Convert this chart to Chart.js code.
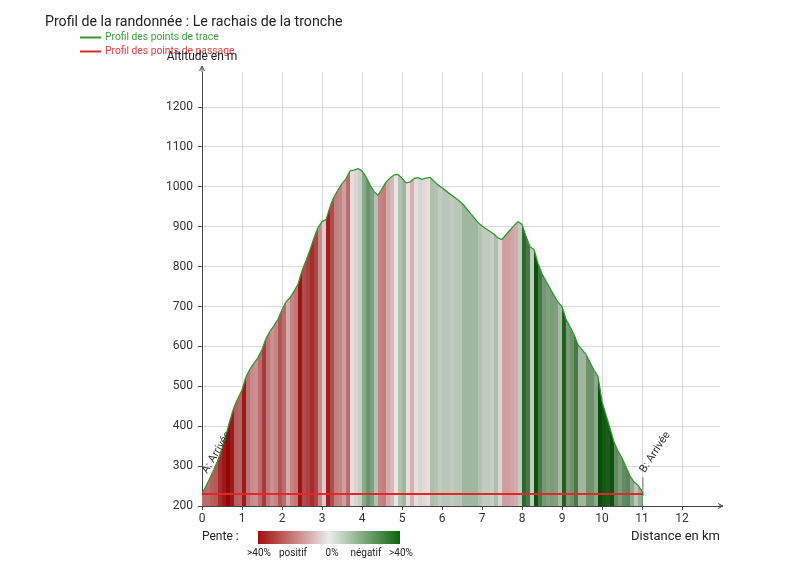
<!DOCTYPE html>
<html><head><meta charset="utf-8">
<script src="https://cdn.jsdelivr.net/npm/chart.js@4/dist/chart.umd.min.js"></script>
<style>
html,body{margin:0;padding:0;background:#fff;}
#wrap{position:relative;width:800px;height:569px;}
canvas{position:absolute;left:0;top:0;}
</style></head><body>
<div id="wrap"><canvas id="c" width="800" height="569"></canvas></div>
<script>
// ---- data ----
const distanceKm = [0.0,0.1,0.2,0.3,0.4,0.5,0.6,0.7,0.8,0.9,
  1.0,1.1,1.2,1.3,1.4,1.5,1.6,1.7,1.8,1.9,
  2.0,2.1,2.2,2.3,2.4,2.5,2.6,2.7,2.8,2.9,
  3.0,3.1,3.2,3.3,3.4,3.5,3.6,3.7,3.8,3.9,
  4.0,4.1,4.2,4.3,4.4,4.5,4.6,4.7,4.8,4.9,
  5.0,5.1,5.2,5.3,5.4,5.5,5.6,5.7,5.8,5.9,
  6.0,6.1,6.2,6.3,6.4,6.5,6.6,6.7,6.8,6.9,
  7.0,7.1,7.2,7.3,7.4,7.5,7.6,7.7,7.8,7.9,
  8.0,8.1,8.2,8.3,8.4,8.5,8.6,8.7,8.8,8.9,
  9.0,9.1,9.2,9.3,9.4,9.5,9.6,9.7,9.8,9.9,
  10.0,10.1,10.2,10.3,10.4,10.5,10.6,10.7,10.8,10.9,
  11.0,11.02];
const altitudeM = [230,250,270,292,315,345,378,415,448,470,
  491,524,543,558,572,592,620,638,652,668,
  692,712,722,738,756,790,815,842,872,898,
  913,918,950,975,992,1008,1020,1040,1042,1046,
  1040,1025,1005,988,979,995,1012,1022,1030,1031,
  1022,1010,1012,1021,1023,1019,1022,1024,1014,1005,
  998,990,982,975,967,959,947,935,923,911,
  902,895,888,882,872,868,880,892,903,913,
  906,876,850,843,808,782,763,746,728,711,
  700,668,650,630,604,592,580,560,540,525,
  462,428,395,360,338,320,298,275,260,252,
  238,232];
const passageKm = [0, 11.02];
const passageAlt = [230, 230];
const yTickValues = [200,300,400,500,600,700,800,900,1000,1100,1200];
const xTickValues = [0,1,2,3,4,5,6,7,8,9,10,11,12];
const titleText = 'Profil de la randonnée : Le rachais de la tronche';
const legendNames = ['Profil des points de trace','Profil des points de passage'];
const startLabel = 'A: Arrivée';
const endLabel = 'B: Arrivée';
const slopeLegend = ['>40%','positif','0%','négatif','>40%'];

// ---- styles ----
const GREEN_LINE = '#2f9a2f';
const RED_LINE = '#e3262a';
const FONT = 'Roboto, "Liberation Sans", sans-serif';

function lerp(a,b,t){return Math.round(a+(b-a)*t);}
function slopeColor(s){
  const t = Math.min(Math.abs(s)/0.36,1);
  const base=[236,234,234];
  const tgt = s>=0 ? [150,6,6] : [8,78,8];
  return `rgb(${lerp(base[0],tgt[0],t)},${lerp(base[1],tgt[1],t)},${lerp(base[2],tgt[2],t)})`;
}

const profilePoints = distanceKm.map((d,i)=>({x:d,y:altitudeM[i]}));
const passagePoints = passageKm.map((d,i)=>({x:d,y:passageAlt[i]}));

const decor = {
  id:'decor',
  afterDraw(chart){
    const c=chart.ctx, a=chart.chartArea, xs=chart.scales.x, ys=chart.scales.y;
    c.save();
    // axis arrows
    c.strokeStyle='#444'; c.fillStyle='#444'; c.lineWidth=1;
    c.beginPath(); c.moveTo(a.left,a.top); c.lineTo(a.left,a.top-5); c.stroke();
    c.beginPath(); c.moveTo(a.left,a.top-6); c.lineTo(a.left-2.5,a.top-1); c.moveTo(a.left,a.top-6); c.lineTo(a.left+2.5,a.top-1); c.stroke();
    c.beginPath(); c.moveTo(a.right-1,a.bottom); c.lineTo(a.right+3,a.bottom); c.stroke();
    c.beginPath(); c.moveTo(a.right+3,a.bottom); c.lineTo(a.right-2,a.bottom-2.5); c.moveTo(a.right+3,a.bottom); c.lineTo(a.right-2,a.bottom+2.5); c.stroke();

    // title
    c.fillStyle='#222'; c.font='14.2px '+FONT; c.textBaseline='alphabetic'; c.textAlign='left';
    c.fillText(titleText,45,26);
    // legend
    c.lineWidth=2;
    c.strokeStyle=GREEN_LINE; c.beginPath(); c.moveTo(80,37.5); c.lineTo(101,37.5); c.stroke();
    c.strokeStyle=RED_LINE; c.beginPath(); c.moveTo(80,51.5); c.lineTo(101,51.5); c.stroke();
    c.font='10.3px '+FONT; c.textBaseline='middle';
    c.fillStyle='#3a9f3a'; c.fillText(legendNames[0],105,37);
    c.fillStyle='#e33a3a'; c.fillText(legendNames[1],105,51);

    // axis titles
    c.fillStyle='#222'; c.font='12px '+FONT; c.textAlign='center'; c.textBaseline='middle';
    c.fillText('Altitude en m',a.left,57);
    c.font='13px '+FONT; c.textAlign='right';
    c.fillText('Distance en km',a.right,537);

    // start / end labels
    const x0=xs.getPixelForValue(distanceKm[0]), y0=ys.getPixelForValue(altitudeM[0]);
    const n=distanceKm.length-1;
    const x1=xs.getPixelForValue(distanceKm[n]), y1=ys.getPixelForValue(altitudeM[n]);
    c.font='11px '+FONT; c.fillStyle='#333'; c.textAlign='left'; c.textBaseline='alphabetic';
    c.save(); c.translate(x0+5,y0-20); c.rotate(-59*Math.PI/180); c.fillText(startLabel,0,0); c.restore();
    c.strokeStyle='#999'; c.lineWidth=1.5; c.beginPath(); c.moveTo(x1,y1-3); c.lineTo(x1,y1-16); c.stroke();
    c.save(); c.translate(x1+2,y1-20); c.rotate(-57*Math.PI/180); c.fillText(endLabel,0,0); c.restore();

    // slope legend
    c.font='12px '+FONT; c.fillStyle='#222'; c.textAlign='left'; c.textBaseline='middle';
    c.fillText('Pente :',202,537);
    const g=c.createLinearGradient(258,0,400,0);
    g.addColorStop(0,'#a30d0d'); g.addColorStop(0.5,'#ebebeb'); g.addColorStop(1,'#0b650b');
    c.fillStyle=g; c.fillRect(258,531,142,13);
    c.font='10px '+FONT; c.fillStyle='#222'; c.textAlign='center';
    const lx=[259,293,332,366,401];
    slopeLegend.forEach((t,i)=>c.fillText(t,lx[i],553));
    c.restore();
  }
};

new Chart(document.getElementById('c'),{
  type:'line',
  data:{datasets:[
    {label:legendNames[1],data:passagePoints,borderColor:RED_LINE,borderWidth:2,pointRadius:0,fill:false,order:0},
    {label:legendNames[0],data:profilePoints,borderColor:GREEN_LINE,borderWidth:1.3,pointRadius:0,tension:0,
     fill:'start',backgroundColor:'#ddd',order:1,
     segment:{backgroundColor:ctx=>{
        const p0=ctx.p0.parsed,p1=ctx.p1.parsed;
        return slopeColor((p1.y-p0.y)/((p1.x-p0.x)*1000));
     }}}
  ]},
  options:{
    responsive:false,animation:false,devicePixelRatio:1,
    layout:{padding:{top:72,right:80,left:0,bottom:0}},
    plugins:{legend:{display:false},title:{display:false},tooltip:{enabled:false}},
    scales:{
      x:{type:'linear',min:0,max:12.95,
        afterFit:s=>{s.height=63;},
        afterBuildTicks:s=>{s.ticks=xTickValues.map(v=>({value:v}));},
        grid:{color:'#d9d9d9',tickColor:'#555',tickLength:4,lineWidth:1},
        border:{display:true,color:'#444',width:1},
        ticks:{color:'#333',font:{family:FONT,size:12},padding:2,maxRotation:0,autoSkip:false,callback:v=>String(v)}},
      y:{type:'linear',min:200,max:1288,
        afterFit:s=>{s.width=202;},
        afterBuildTicks:s=>{s.ticks=yTickValues.map(v=>({value:v}));},
        grid:{color:'#d9d9d9',tickColor:'#555',tickLength:4,lineWidth:1},
        border:{display:true,color:'#444',width:1},
        ticks:{color:'#333',font:{family:FONT,size:12},padding:5,autoSkip:false,callback:v=>String(v)}}
    }
  },
  plugins:[decor]
});
</script>
</body></html>
